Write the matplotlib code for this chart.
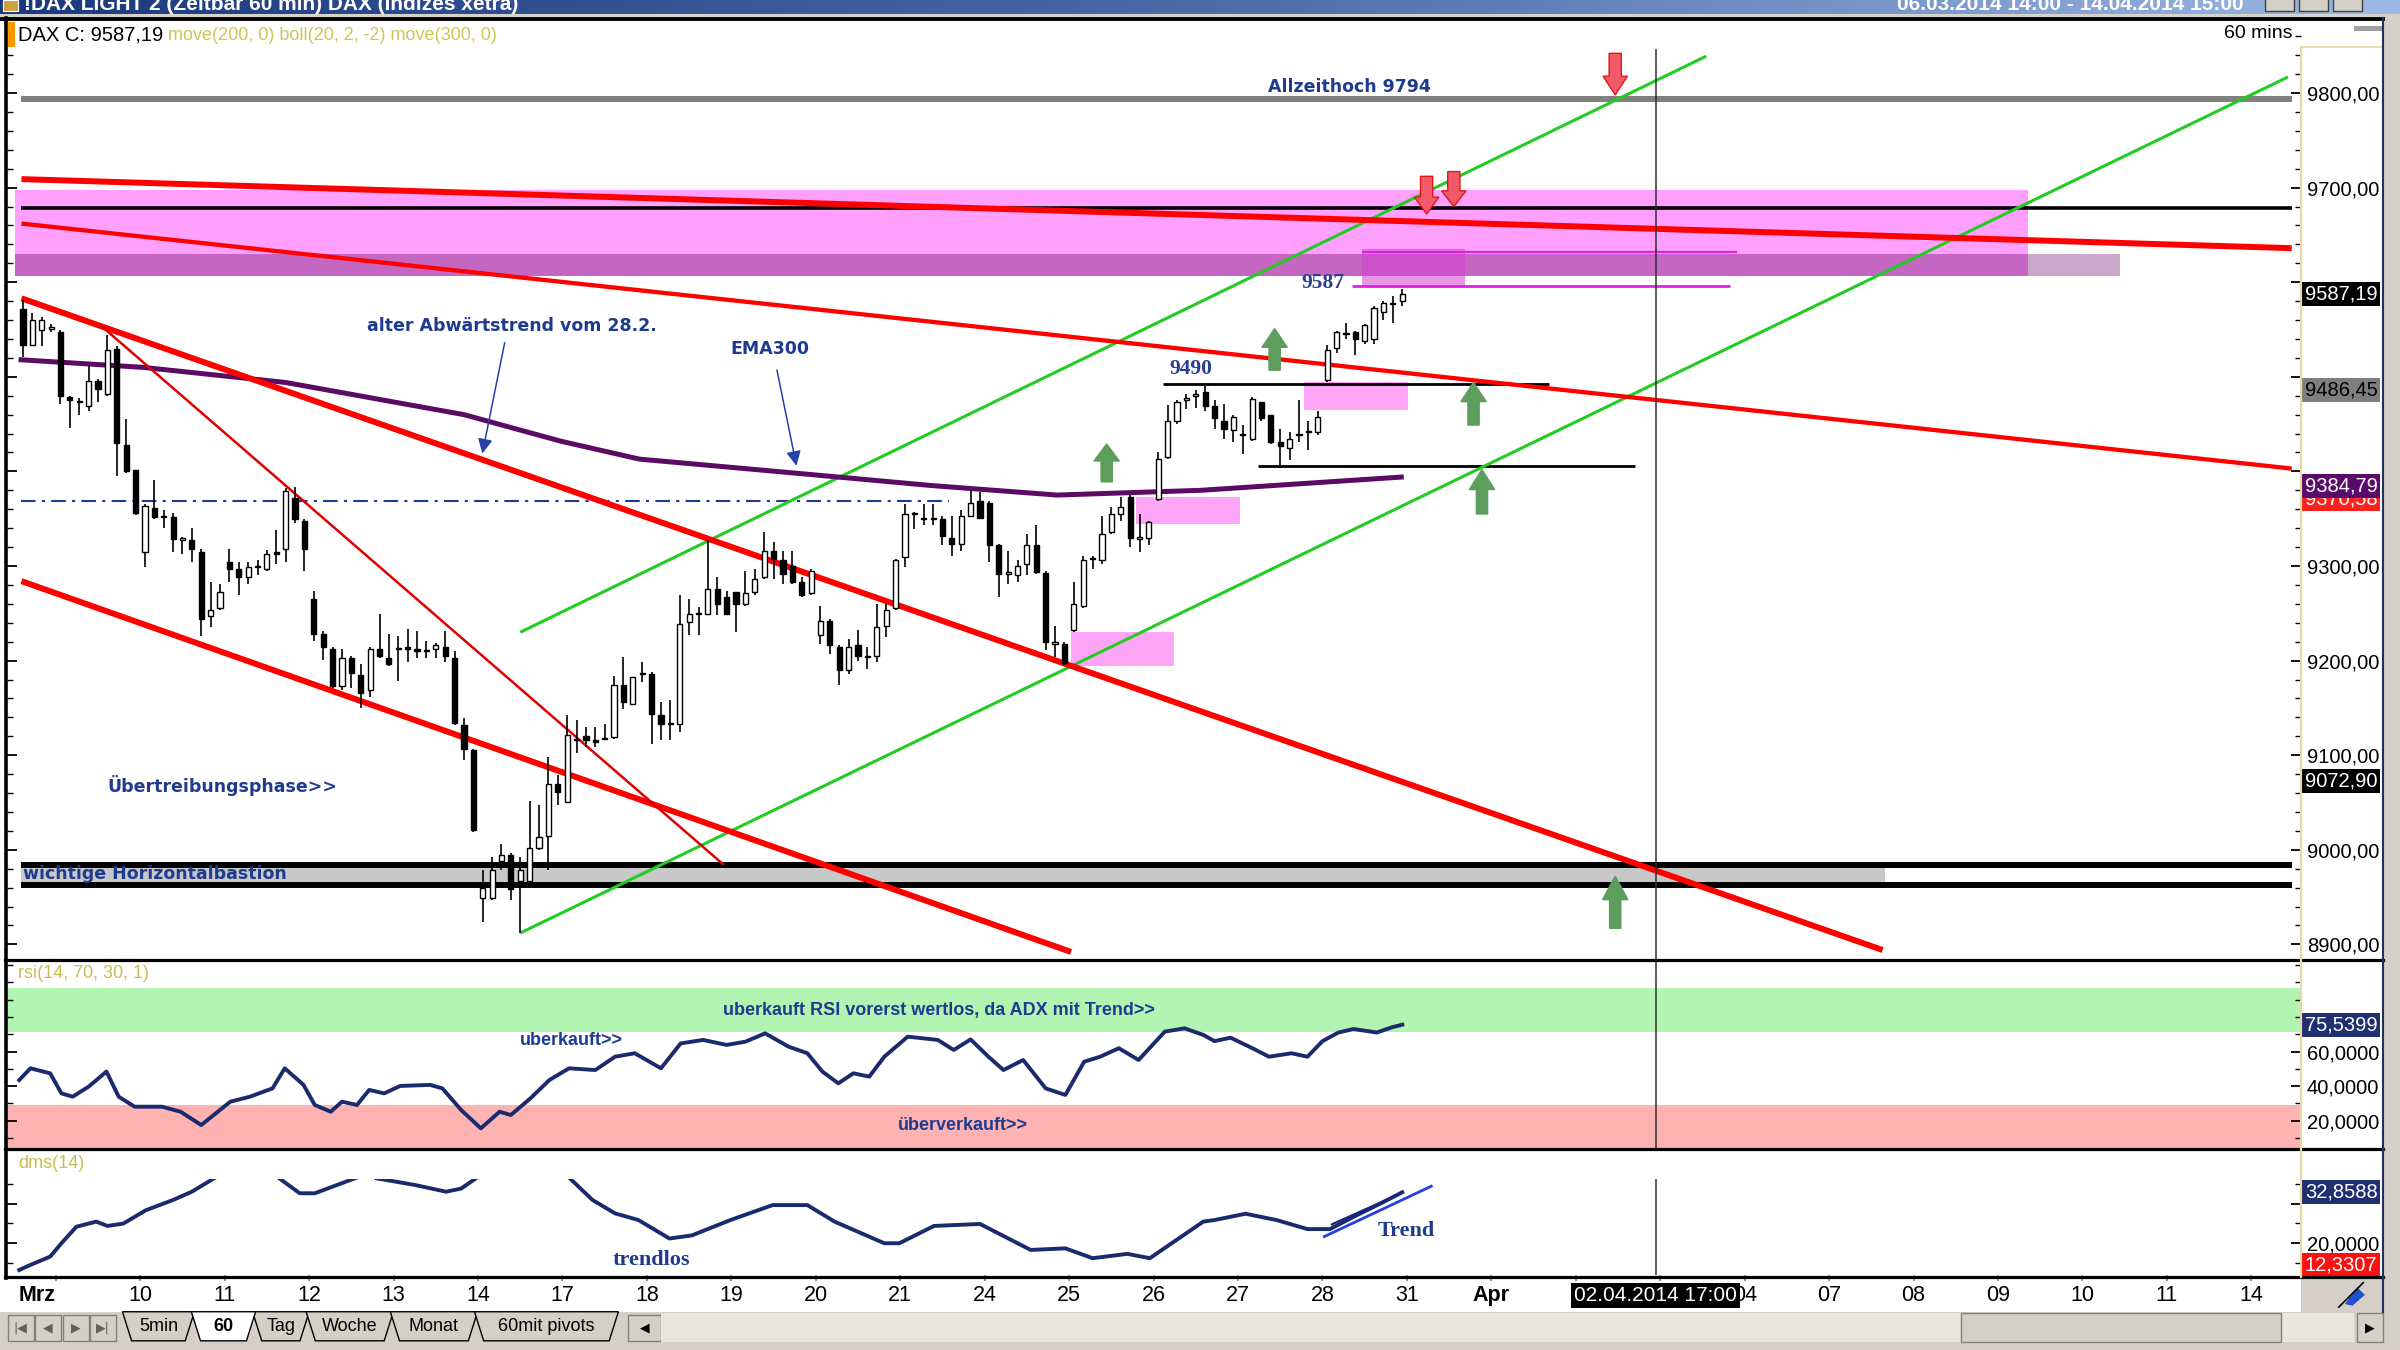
"""DAX 60min chart with trendlines, RSI and DMS panels (screenshot remake)"""
import numpy as np
import matplotlib
matplotlib.use('Agg')
import matplotlib.pyplot as plt
import matplotlib.transforms as mtrans
from matplotlib.colors import LinearSegmentedColormap
from matplotlib.patches import Rectangle, Polygon
from matplotlib import font_manager as fm

# ---------------- data (bar index = hourly bar since 06.03.2014 14:00) ----------------
opens = [9572, 9534, 9549, 9551, 9547, 9479, 9473, 9469, 9496, 9482,
         9529, 9428, 9402, 9315, 9361, 9352, 9352, 9328, 9328, 9315,
         9247, 9256, 9304, 9297, 9288, 9299, 9297, 9315, 9318, 9372,
         9348, 9265, 9228, 9212, 9173, 9203, 9185, 9169, 9212, 9203,
         9212, 9214, 9212, 9210, 9212, 9214, 9203, 9132, 9105, 8949,
         8949, 8988, 8995, 8967, 8967, 9002, 9015, 9070, 9051, 9116,
         9120, 9116, 9117, 9119, 9174, 9154, 9186, 9186, 9142, 9133,
         9133, 9241, 9249, 9249, 9276, 9267, 9272, 9260, 9272, 9288,
         9316, 9306, 9300, 9283, 9271, 9227, 9242, 9214, 9190, 9216,
         9204, 9205, 9237, 9256, 9309, 9355, 9350, 9350, 9350, 9330,
         9323, 9353, 9369, 9367, 9322, 9292, 9290, 9302, 9322, 9293,
         9218, 9218, 9232, 9258, 9307, 9306, 9336, 9355, 9373, 9329,
         9330, 9371, 9415, 9453, 9476, 9480, 9484, 9469, 9453, 9444,
         9438, 9434, 9473, 9460, 9431, 9425, 9438, 9442, 9442, 9497,
         9530, 9545, 9547, 9538, 9540, 9568, 9577, 9580]
highs = [9581, 9567, 9563, 9556, 9549, 9480, 9478, 9512, 9498, 9544,
         9533, 9455, 9402, 9366, 9391, 9359, 9356, 9331, 9340, 9318,
         9283, 9281, 9318, 9304, 9304, 9306, 9317, 9338, 9382, 9384,
         9350, 9274, 9231, 9214, 9212, 9205, 9196, 9214, 9249, 9228,
         9226, 9233, 9231, 9221, 9219, 9231, 9210, 9139, 9107, 8979,
         8992, 9006, 8997, 8992, 9052, 9047, 9098, 9079, 9142, 9137,
         9130, 9130, 9133, 9184, 9204, 9183, 9198, 9188, 9156, 9158,
         9269, 9265, 9257, 9327, 9288, 9274, 9272, 9295, 9297, 9336,
         9325, 9316, 9316, 9288, 9297, 9258, 9244, 9216, 9223, 9232,
         9214, 9260, 9260, 9307, 9366, 9357, 9366, 9366, 9353, 9353,
         9359, 9380, 9378, 9369, 9323, 9316, 9306, 9334, 9343, 9295,
         9237, 9220, 9283, 9311, 9311, 9353, 9362, 9373, 9375, 9355,
         9348, 9420, 9470, 9475, 9482, 9486, 9490, 9475, 9471, 9460,
         9449, 9479, 9473, 9460, 9445, 9442, 9475, 9453, 9464, 9534,
         9548, 9557, 9548, 9556, 9575, 9580, 9585, 9593]
lows = [9521, 9533, 9533, 9547, 9471, 9446, 9460, 9464, 9473, 9480,
        9395, 9398, 9354, 9299, 9350, 9340, 9315, 9313, 9304, 9226,
        9235, 9253, 9283, 9269, 9281, 9290, 9295, 9302, 9304, 9345,
        9295, 9221, 9201, 9171, 9169, 9171, 9150, 9162, 9203, 9194,
        9178, 9198, 9203, 9203, 9203, 9198, 9132, 9095, 9019, 8924,
        8947, 8979, 8947, 8912, 8967, 9000, 8979, 9047, 9049, 9102,
        9109, 9109, 9116, 9117, 9149, 9153, 9177, 9112, 9116, 9116,
        9125, 9227, 9227, 9248, 9248, 9248, 9230, 9258, 9269, 9286,
        9286, 9281, 9281, 9267, 9269, 9218, 9207, 9174, 9186, 9200,
        9191, 9198, 9225, 9253, 9299, 9339, 9343, 9343, 9322, 9311,
        9316, 9352, 9350, 9304, 9267, 9281, 9283, 9290, 9292, 9211,
        9204, 9195, 9230, 9256, 9297, 9302, 9334, 9348, 9320, 9315,
        9322, 9369, 9413, 9450, 9466, 9467, 9464, 9445, 9434, 9431,
        9418, 9432, 9453, 9429, 9407, 9412, 9431, 9423, 9438, 9495,
        9525, 9540, 9523, 9535, 9535, 9560, 9557, 9575]
closes = [9534, 9560, 9560, 9551, 9480, 9476, 9473, 9496, 9487, 9528,
          9430, 9400, 9356, 9363, 9352, 9352, 9329, 9328, 9318, 9244,
          9253, 9272, 9297, 9288, 9299, 9299, 9313, 9313, 9379, 9350,
          9318, 9228, 9214, 9173, 9203, 9187, 9166, 9212, 9205, 9196,
          9212, 9212, 9210, 9210, 9216, 9205, 9134, 9107, 9021, 8960,
          8979, 8995, 8958, 8979, 9002, 9013, 9070, 9061, 9121, 9116,
          9116, 9114, 9117, 9174, 9156, 9183, 9186, 9144, 9133, 9133,
          9239, 9249, 9249, 9276, 9260, 9249, 9260, 9271, 9286, 9316,
          9307, 9292, 9283, 9269, 9295, 9242, 9216, 9190, 9214, 9205,
          9204, 9235, 9254, 9306, 9355, 9355, 9350, 9350, 9332, 9323,
          9353, 9367, 9351, 9322, 9292, 9292, 9300, 9322, 9294, 9220,
          9218, 9197, 9260, 9306, 9307, 9334, 9355, 9362, 9330, 9329,
          9346, 9413, 9453, 9473, 9477, 9482, 9469, 9456, 9445, 9458,
          9438, 9477, 9456, 9431, 9427, 9434, 9438, 9442, 9458, 9528,
          9547, 9545, 9540, 9555, 9573, 9578, 9577, 9587.19]

# EMA300
ema_x = [-0.2, 12.8, 28.0, 47.0, 57.3, 65.7, 81.4, 96.9, 110.2, 125.5, 146.9]
ema_y = [9518, 9510, 9494, 9460, 9432, 9413, 9399, 9385, 9375, 9380, 9394]

# RSI(14) turning points
rsi_x = [-0.4, 0.8, 2.9, 4.1, 5.3, 7.0, 8.9, 10.2, 11.9, 14.8, 16.8, 19.0, 22.1, 24.2,
         26.6, 27.9, 29.9, 31.1, 32.8, 34.0, 35.6, 36.9, 38.5, 40.2, 43.4, 44.7, 46.7,
         48.8, 50.8, 52.0, 54.1, 56.1, 58.2, 61.0, 63.1, 65.2, 68.0, 70.1, 72.5, 75.0,
         77.0, 79.1, 81.6, 83.6, 85.2, 86.9, 88.5, 90.2, 91.8, 94.3, 97.5, 99.2, 101.0,
         102.9, 104.5, 106.6, 109.0, 111.1, 113.1, 114.8, 116.8, 118.9, 121.7, 123.8,
         125.8, 127.0, 128.7, 131.0, 132.8, 135.2, 136.9, 138.5, 140.2, 141.8, 144.3,
         145.9, 147.0]
rsi_v = [43.5, 50.3, 47.4, 35.8, 33.9, 39.7, 48.4, 33.9, 28.1, 28.1, 25.2, 17.5, 31.0, 33.9,
         38.7, 50.3, 40.7, 29.1, 25.2, 31.0, 29.1, 37.8, 35.8, 40.1, 40.7, 38.7, 26.2,
         15.6, 25.2, 23.3, 33.0, 43.5, 50.3, 49.3, 57.0, 59.0, 50.3, 64.7, 66.7, 63.8,
         65.7, 70.5, 62.8, 59.0, 48.4, 41.6, 47.4, 45.5, 57.0, 68.6, 66.7, 60.9, 67.0,
         57.0, 49.3, 55.1, 38.7, 34.9, 54.1, 57.0, 61.9, 55.1, 71.5, 73.4,
         69.6, 66.0, 68.0, 62.0, 57.0, 59.0, 57.0, 66.0, 71.0, 73.0, 71.0,
         74.0, 75.5]

# DMS(14) turning points, nan = line runs off the top of the panel
nan = np.nan
dms_x = [-0.4, 0.8, 2.9, 4.1, 5.7, 7.8, 9.0, 10.7, 13.1, 16.0, 18.0, 20.5, nan,
         27.2, 29.5, 31.1, 35.6, nan, 37.7, 41.8, 45.1, 46.7, 48.4, nan,
         58.2, 60.7, 63.1, 65.6, 68.9, 71.3, 75.4, 79.9, 83.6, 86.5, 91.8, 93.4, 97.1,
         102.0, 107.4, 111.1, 114.0, 117.7, 120.1, 125.8, 127.0, 130.3, 133.6, 136.9,
         139.3, 141.8, 145.1, 147.0]
dms_v = [13.1, 14.4, 16.5, 19.9, 24.1, 25.4, 24.3, 24.9, 28.3, 30.9, 33.0, 36.6, nan,
         36.6, 32.6, 32.6, 36.6, nan, 36.4, 34.7, 33.0, 33.8, 36.6, nan,
         36.6, 30.9, 27.5, 25.8, 21.1, 21.9, 25.8, 29.6, 29.6, 25.4, 19.9, 19.9, 24.3,
         24.8, 18.2, 18.6, 16.1, 17.2, 16.1, 25.4, 25.8, 27.4, 25.8, 23.5,
         23.5, 26.6, 30.5, 32.86]

# x axis: first bar of each trading day (02 and 03 sit under the cursor label)
day_starts = [4, 13, 22, 31, 40, 49, 58, 67, 76, 85, 94, 103, 112, 121, 130, 139,
              148, 157, 166, 175, 184, 193, 202, 211, 220, 229, 238]
day_labels = ['Mrz', '10', '11', '12', '13', '14', '17', '18', '19', '20', '21', '24',
              '25', '26', '27', '28', '31', 'Apr', '', '', '04', '07', '08', '09',
              '10', '11', '14']

# drawn trendlines: (x0, y0, x1, y1) in bar index / price
red_top = (-0.16, 9709, 241.8, 9636)
red_mid = (-0.16, 9662, 241.8, 9403)
red_long = (-0.16, 9583, 198.2, 8894)
red_thin = (8.2, 9555, 74.7, 8984)
red_low = (-0.16, 9284, 111.7, 8892)
green_up = (53.0, 9230, 179.4, 9839)
green_low = (53.0, 8912, 241.4, 9817)

ath_level = 9794
resist_level = 9678
bastion_levels = [8984, 8963]
level_9490 = 9492
level_low = 9406
dashdot_level = 9369

# zones: (x0, x1, y0, y1)
pink_zone = (-0.8, 213.7, 9607, 9698)
mauve_zone = (-0.8, 213.7, 9607, 9630)
mauve_ext = (213.7, 223.5, 9607, 9630)
magenta_zone = (142.7, 153.7, 9596, 9635)
pink_boxes = [(111.7, 122.7, 9194, 9230), (118.6, 129.7, 9344, 9373), (136.5, 147.6, 9465, 9494)]

# block arrows: (bar, base, tip)
green_arrows = [(115.5, 9389, 9429), (133.4, 9507, 9551), (154.6, 9449, 9494),
                (155.5, 9355, 9402), (169.7, 8917, 8972)]
red_arrows = [(169.7, 9842, 9798), (149.6, 9712, 9672), (152.5, 9717, 9680)]

cursor_bar = 174
cursor_label = '02.04.2014 17:00'
cursor_price = 9072.90
mid_band = 9486.45
ema_last = 9384.79
ma_last = 9370.58
rsi_last = 75.5399
dms_last = 32.8588
dms_low = 12.3307

# ---------------- layout helpers ----------------
W, H = 1568, 882          # grid the screenshot layout was measured on
names = {f.name for f in fm.fontManager.ttflist}
SANS = 'Liberation Sans'
NARROW = 'Liberation Sans Narrow' if 'Liberation Sans Narrow' in names else SANS
SERIF = 'Liberation Serif'
NAVY = '#1f3b8f'


def rect(x0, y0, x1, y1):
    return [x0 / W, 1 - y1 / H, (x1 - x0) / W, (y1 - y0) / H]


def ftext(x, y, s, **kw):
    return fig.text(x / W, 1 - y / H, s, **kw)


def fmt(v, nd):
    return f'{v:.{nd}f}'.replace('.', ',')


def scale_labels(ticks, boxes, nd, gap):
    # labels that sit under a value box are hidden, as on the screen
    return ['' if any(abs(t - b) < gap for b in boxes) else fmt(t, nd) for t in ticks]


fig = plt.figure(figsize=(24, 13.5), dpi=100)
fig.patch.set_facecolor('white')

bg = fig.add_axes([0, 0, 1, 1], zorder=0)
bg.set_xlim(0, W); bg.set_ylim(H, 0); bg.axis('off')

XL = (-1.713, 242.82)
ax = fig.add_axes(rect(4.5, 14.5, 1503.5, 626.5), zorder=1)
axr = fig.add_axes(rect(4.5, 628, 1503.5, 750), zorder=1)
axd = fig.add_axes(rect(4.5, 770, 1503.5, 833), zorder=1)
for a in (ax, axr, axd):
    a.set_xlim(*XL)
    a.set_facecolor('white')
    for s in a.spines.values():
        s.set_visible(False)
ax.set_ylim(8884.6, 9874.9)
axr.set_ylim(4.25, 112.2)
axd.set_ylim(11.83, 36.34)

# ---------------- main price panel ----------------
def seg(a, line, **kw):
    a.plot([line[0], line[2]], [line[1], line[3]], solid_capstyle='butt', **kw)


def zone(a, z, **kw):
    a.add_patch(Rectangle((z[0], z[2]), z[1] - z[0], z[3] - z[2], lw=0, **kw))


zone(ax, pink_zone, fc='#ffa0ff', zorder=1)
zone(ax, mauve_zone, fc='#c566c2', zorder=1.1)
zone(ax, mauve_ext, fc='#c9a9c9', zorder=1.1)
zone(ax, magenta_zone, fc='#d640d6', alpha=0.55, zorder=1.2)
for b in pink_boxes:
    zone(ax, b, fc='#ffa6f8', zorder=1.2)
ax.add_patch(Rectangle((-0.16, bastion_levels[1]), 198.5 + 0.16,
                       bastion_levels[0] - bastion_levels[1], fc='#c8c8c8', lw=0, zorder=1))

ax.hlines(ath_level, -0.16, 241.8, color='#808080', lw=4.3, zorder=2)
ax.hlines(resist_level, -0.16, 241.8, color='black', lw=2.6, zorder=2)
ax.hlines(bastion_levels, -0.16, 241.8, color='black', lw=4.3, zorder=2)
ax.hlines(level_9490, 121.5, 162.6, color='black', lw=2.0, zorder=2)
ax.hlines(level_low, 131.6, 171.8, color='black', lw=2.0, zorder=2)
ax.hlines(9632, 142.7, 182.7, color='#e020e0', lw=1.6, zorder=2)
ax.hlines(9596, 141.6, 181.9, color='#e020e0', lw=2.0, zorder=2)
ax.hlines(dashdot_level, -0.16, 98.7, color='#1f3a93', lw=1.5, zorder=2,
          linestyles=[(0, (7, 3, 1.5, 3))])

seg(ax, green_up, color='#22cc22', lw=2.2, zorder=3)
seg(ax, green_low, color='#22cc22', lw=2.2, zorder=3)
ax.plot(ema_x, ema_y, color='#5b0b63', lw=3.6, zorder=3)
seg(ax, red_top, color='#ff0000', lw=4.3, zorder=3)
seg(ax, red_mid, color='#ff0000', lw=3.1, zorder=3)
seg(ax, red_long, color='#ff0000', lw=4.3, zorder=3)
seg(ax, red_low, color='#ff0000', lw=4.3, zorder=3)
seg(ax, red_thin, color='#e00000', lw=1.8, zorder=3)

# candles
idx = np.arange(len(closes))
o, h, l, c = (np.array(v, float) for v in (opens, highs, lows, closes))
ax.vlines(idx, l, h, color='black', lw=1.2, zorder=4)
body_lo = np.minimum(o, c)
body_h = np.maximum(np.abs(c - o), 1.2)
ax.bar(idx, body_h, bottom=body_lo, width=0.55,
       color=np.where(c >= o, 'white', 'black'), edgecolor='black', lw=1.0, zorder=5)


def block_arrow(a, x, base, tip, fc, ec, head_w=2.7, shaft_w=1.2, head_frac=0.45):
    neck = tip - (tip - base) * head_frac
    pts = [(x - shaft_w / 2, base), (x + shaft_w / 2, base), (x + shaft_w / 2, neck),
           (x + head_w / 2, neck), (x, tip), (x - head_w / 2, neck), (x - shaft_w / 2, neck)]
    a.add_patch(Polygon(pts, closed=True, fc=fc, ec=ec, lw=1, zorder=7))


for x, b, t in green_arrows:
    block_arrow(ax, x, b, t, '#5d9e5d', '#5d9e5d')
for x, b, t in red_arrows:
    block_arrow(ax, x, b, t, '#f25a6a', '#e01818', head_w=2.6, shaft_w=1.3)

ax.axvline(cursor_bar, ymax=0.97, color='#303030', lw=1.1, zorder=6)

bold_sans = dict(family='DejaVu Sans', fontweight='bold', color=NAVY, fontsize=12.5, zorder=8)
ax.text(141.4, 9806, 'Allzeithoch 9794', ha='center', va='center', **bold_sans)
ax.text(36.7, 9554, 'alter Abwärtstrend vom 28.2.', ha='left', va='center', **bold_sans)
ax.text(75.4, 9529, 'EMA300', ha='left', va='center', **bold_sans)
ax.text(9.0, 9068, 'Übertreibungsphase>>', ha='left', va='center', **bold_sans)
ax.text(0.0, 8974, 'wichtige Horizontalbastion', ha='left', va='center', **bold_sans)
ax.text(136.2, 9599, '9587', ha='left', va='center', family=SERIF, fontweight='bold',
        fontsize=15.5, color='#2b3f8f', zorder=8)
ax.text(122.2, 9508, '9490', ha='left', va='center', family=SERIF, fontweight='bold',
        fontsize=15.5, color='#2b3f8f', zorder=8)
arrow_kw = dict(arrowstyle='-|>', color='#2442a8', lw=1.1, mutation_scale=22)
ax.annotate('', xy=(48.9, 9416), xytext=(51.4, 9539), arrowprops=arrow_kw, zorder=8)
ax.annotate('', xy=(82.5, 9403), xytext=(80.3, 9510), arrowprops=arrow_kw, zorder=8)

main_boxes = [closes[-1], mid_band, ema_last, ma_last, cursor_price]
price_ticks = np.arange(8900, 9801, 100)
ax.set_yticks(price_ticks)
ax.set_yticklabels(scale_labels(price_ticks, main_boxes, 2, 19))
ax.set_yticks(np.arange(8900, 9880, 20), minor=True)

# ---------------- RSI panel ----------------
axr.axhspan(71, 97, color='#b2f5b2', lw=0, zorder=1)
axr.axhspan(0, 29, color='#ffb2b2', lw=0, zorder=1)
axr.plot(rsi_x, rsi_v, color='#1a2a6c', lw=2.8, zorder=3)
axr.axvline(cursor_bar, color='#303030', lw=1.1, zorder=4)
lbl = dict(family=SANS, fontweight='bold', color=NAVY, fontsize=13, zorder=5)
axr.text(97.6, 83.9, 'uberkauft RSI vorerst wertlos, da ADX mit Trend>>', ha='center', va='center', **lbl)
axr.text(53.0, 66.2, 'uberkauft>>', ha='left', va='center', **lbl)
axr.text(93.3, 17.5, 'überverkauft>>', ha='left', va='center', **lbl)
rsi_ticks = [20, 40, 60]
axr.set_yticks(rsi_ticks)
axr.set_yticklabels(scale_labels(rsi_ticks, [rsi_last], 4, 8))
axr.set_yticks(np.arange(10, 111, 10), minor=True)

# ---------------- DMS panel ----------------
axd.plot(dms_x, dms_v, color='#1a2a6c', lw=2.8, zorder=3)
axd.plot([138.7, 150.1], [21.6, 34.4], color='#2040e0', lw=2.0, zorder=4)
axd.plot([139.5, 146.8], [24.7, 32.5], color='#1a237e', lw=1.6, zorder=4)
axd.axvline(cursor_bar, color='#303030', lw=1.1, zorder=4)
axd.text(62.8, 15.7, 'trendlos', ha='left', va='center', family=SERIF, fontweight='bold',
         fontsize=16, color=NAVY, zorder=5)
axd.text(144.4, 23.1, 'Trend', ha='left', va='center', family=SERIF, fontweight='bold',
         fontsize=16, color=NAVY, zorder=5)
dms_ticks = [20, 30]
axd.set_yticks(dms_ticks)
axd.set_yticklabels(scale_labels(dms_ticks, [dms_last], 4, 4))
axd.set_yticks(np.arange(15, 36, 5), minor=True)

# ---------------- ticks ----------------
for a in (ax, axr, axd):
    a.tick_params(axis='y', which='both', left=True, right=True, labelleft=False,
                  labelright=True, direction='in', color='black')
    a.tick_params(axis='y', which='major', length=7, width=1.3, pad=4, labelsize=14.5)
    a.tick_params(axis='y', which='minor', length=4, width=1.0)
    for t in a.get_yticklabels():
        t.set_fontfamily(NARROW)
for a in (ax, axr):
    a.tick_params(axis='x', bottom=False, labelbottom=False)
axd.set_xticks([s - 0.5 for s in day_starts])
axd.set_xticklabels(day_labels)
axd.tick_params(axis='x', direction='out', length=4, width=1.2, color='#808080',
                pad=3, labelsize=15.5)
for t in axd.get_xticklabels():
    t.set_fontfamily(NARROW)
    if t.get_text() in ('Mrz', 'Apr'):
        t.set_fontweight('bold')
    if t.get_text() == 'Mrz':
        t.set_horizontalalignment('right')

# value boxes on the right scale
def value_box(a, val, text, fc, tc='white'):
    lo, hi = a.get_ylim()
    val = min(max(val, lo + 0.1 * (hi - lo)), hi - 0.05 * (hi - lo))
    tr = mtrans.blended_transform_factory(a.transAxes, a.transData)
    a.text(1.0015, val, text, transform=tr, ha='left', va='center', fontsize=14.5,
           family=NARROW, color=tc, zorder=20, clip_on=False,
           bbox=dict(boxstyle='square,pad=0.12', fc=fc, ec='none'))


value_box(ax, closes[-1], fmt(closes[-1], 2), 'black')
value_box(ax, mid_band, fmt(mid_band, 2), '#7f7f7f', 'black')
value_box(ax, ma_last, fmt(ma_last, 2), '#ff2020')
value_box(ax, ema_last, fmt(ema_last, 2), '#5a0a6a')
value_box(ax, cursor_price, fmt(cursor_price, 2), 'black')
value_box(axr, rsi_last, fmt(rsi_last, 4), '#1f2f6f')
value_box(axd, dms_low, fmt(dms_low, 4), '#ff1010')
value_box(axd, dms_last, fmt(dms_last, 4), '#1f2f6f')

tr_d = mtrans.blended_transform_factory(axd.transData, axd.transAxes)
axd.text(cursor_bar, -0.21, cursor_label, transform=tr_d, ha='center', va='center',
         fontsize=15, family=NARROW, color='white', zorder=20, clip_on=False,
         bbox=dict(boxstyle='square,pad=0.15', fc='black', ec='none'))

# ---------------- window chrome ----------------
bg.add_patch(Rectangle((1557, 0), 11, H, fc='#d4d0c8', lw=0))
bg.add_patch(Rectangle((0, 857), W, 25, fc='#d4d0c8', lw=0))
bg.add_patch(Rectangle((1503.5, 835), 54, 22, fc='#d4d0c8', lw=0))
bg.add_patch(Polygon([(1532, 852), (1540, 841), (1545, 846), (1537, 853)], fc='#2050d0', lw=0))
bg.plot([1528, 1544], [854, 838], color='black', lw=1.2)

# nav buttons and tabs
for k, sym in enumerate(['|◀', '◀', '▶', '▶|']):
    x0 = 5 + 18 * k
    bg.add_patch(Rectangle((x0, 859), 17, 17, fc='#d4d0c8', ec='#808080', lw=1))
    ftext(x0 + 8.5, 867.5, sym, ha='center', va='center', fontsize=9, color='#606060',
          family='DejaVu Sans')
tabs = [('5min', 80, 127), ('60', 125, 167), ('Tag', 165, 202), ('Woche', 200, 257),
        ('Monat', 255, 312), ('60mit pivots', 310, 404)]
for name, x0, x1 in tabs:
    fc = 'white' if name == '60' else '#d4d0c8'
    bg.add_patch(Polygon([(x0, 857), (x0 + 6, 876), (x1 - 6, 876), (x1, 857)],
                         fc=fc, ec='black', lw=1, zorder=3 if name == '60' else 2))
    ftext((x0 + x1) / 2, 866.5, name, ha='center', va='center', fontsize=13,
          family=NARROW, fontweight='bold' if name == '60' else 'normal')
bg.add_patch(Rectangle((410, 859), 22, 17, fc='#d4d0c8', ec='#808080', lw=1))
ftext(421, 867.5, '◀', ha='center', va='center', fontsize=9, family='DejaVu Sans')
bg.add_patch(Rectangle((432, 858), 1106, 19, fc='#e8e6e0', lw=0))
bg.add_patch(Rectangle((1281, 858), 209, 19, fc='#d4d0c8', ec='#808080', lw=1))
bg.add_patch(Rectangle((1540, 858), 17, 19, fc='#d4d0c8', ec='#808080', lw=1))
ftext(1548.5, 867.5, '▶', ha='center', va='center', fontsize=9, family='DejaVu Sans')

# overlay frame lines
ov = fig.add_axes([0, 0, 1, 1], zorder=10)
ov.set_xlim(0, W); ov.set_ylim(H, 0); ov.axis('off'); ov.patch.set_alpha(0)
ov.plot([0, 1557], [12.5, 12.5], color='black', lw=2.8)
ov.plot([0, 1557], [10, 10], color='#d4d0c8', lw=2)
for y in (627.2, 751, 834):
    ov.plot([3, 1557], [y, y], color='black', lw=2.3)
ov.plot([4, 4], [12, 835], color='black', lw=2.6)
ov.plot([1503.5, 1503.5], [31, 834], color='#e6d9a2', lw=1.6)
ov.plot([1503.5, 1557], [31, 31], color='#e6d9a2', lw=1.2)
ov.plot([1557, 1557], [12, 857], color='#203060', lw=1.5)
ov.add_patch(Rectangle((5.5, 14.5), 4.5, 16.5, fc='#ff9900', lw=0))
ov.add_patch(Rectangle((1538, 17), 18, 3.5, fc='#a0a0a0', lw=0))

# title bar (mostly cut off in the screenshot)
tb = fig.add_axes(rect(0, 0, W, 9.2), zorder=11)
tb.set_xlim(0, W); tb.set_ylim(9.2, 0); tb.axis('off')
grad = LinearSegmentedColormap.from_list('tb', ['#1b3a7e', '#4a6aa8', '#9db8e4'])
tb.imshow(np.linspace(0, 1, 256)[None, :], aspect='auto', cmap=grad, extent=(0, W, 9.2, 0))
tb.add_patch(Rectangle((2, 0), 10, 7, fc='#d0a040', ec='white', lw=0.8))
tb.text(16, 6.8, '!DAX LIGHT 2 (Zeitbar 60 min) DAX (Indizes xetra)', ha='left',
        va='baseline', color='white', fontsize=15, fontweight='bold', family=SANS, clip_on=True)
tb.text(1466, 6.8, '06.03.2014 14:00 - 14.04.2014 15:00', ha='right', va='baseline',
        color='white', fontsize=15, fontweight='bold', family=SANS, clip_on=True)
for x0 in (1480, 1502, 1524):
    tb.add_patch(Rectangle((x0, -1), 19, 8.5, fc='#d4d0c8', ec='#404040', lw=1))

# header texts
ftext(12, 23, f'DAX C: {fmt(closes[-1], 2)}', ha='left', va='center', fontsize=14.5,
      family=SANS, color='black')
ftext(110, 23, 'move(200, 0) boll(20, 2, -2) move(300, 0)', ha='left', va='center',
      fontsize=13, family=SANS, color='#cfc655')
ftext(1498, 22, '60 mins', ha='right', va='center', fontsize=14, family=NARROW)
ftext(12, 636, 'rsi(14, 70, 30, 1)', ha='left', va='center', fontsize=13,
      family=NARROW, color='#c9be55')
ftext(12, 760, 'dms(14)', ha='left', va='center', fontsize=13, family=NARROW,
      color='#c9be55')

fig.savefig('out.png', dpi=100, facecolor='white')
plt.close(fig)
print('Saved: out.png')
